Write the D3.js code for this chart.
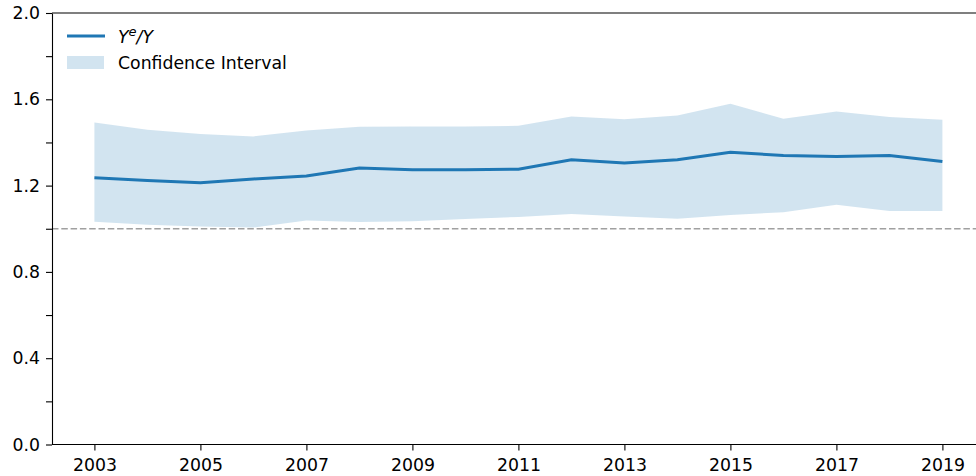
<!DOCTYPE html>
<html lang="en">
<head>
<meta charset="UTF-8">
<title>Ye/Y</title>
<style>
    body { margin: 0; background: #fff; }
    svg { display: block; }
    text { font-family: "DejaVu Sans", sans-serif; font-size: 17.3px; fill: #000; }
    .axis path, .axis line { stroke: #000; stroke-width: 1.1px; }
</style>
</head>
<body>
<svg width="976" height="476"></svg>
<script src="https://d3js.org/d3.v7.min.js"></script>
<script>
    // data
    var years = [2003, 2004, 2005, 2006, 2007, 2008, 2009, 2010, 2011, 2012, 2013, 2014, 2015, 2016, 2017, 2018, 2019];
    var ratio = [1.236, 1.224, 1.213, 1.231, 1.245, 1.282, 1.273, 1.274, 1.276, 1.320, 1.305, 1.320, 1.354, 1.340, 1.335, 1.340, 1.312];
    var upper = [1.493, 1.459, 1.439, 1.428, 1.455, 1.473, 1.474, 1.474, 1.477, 1.520, 1.508, 1.525, 1.579, 1.510, 1.544, 1.518, 1.505];
    var lower = [1.033, 1.018, 1.010, 1.006, 1.038, 1.031, 1.035, 1.045, 1.055, 1.068, 1.057, 1.046, 1.064, 1.077, 1.111, 1.082, 1.082];
    var xTicks = [2003, 2005, 2007, 2009, 2011, 2013, 2015, 2017, 2019];
    var yTicks = [0, 0.2, 0.4, 0.6, 0.8, 1.0, 1.2, 1.4, 1.6, 1.8, 2.0];
    var yLabels = ["0.0", "", "0.4", "", "0.8", "", "1.2", "", "1.6", "", "2.0"];

    var svg = d3.select("svg");
    var plotLeft = 52, plotTop = 13, plotBottom = 444.5;

    var x = d3.scaleLinear().domain([2002.2, 2019.8]).range([plotLeft, plotLeft + 17.6 * 53]);
    var y = d3.scaleLinear().domain([0, 2]).range([plotBottom, plotTop]);

    var rows = years.map(function (yr, i) {
        return { year: yr, v: ratio[i], lo: lower[i], hi: upper[i] };
    });

    // confidence band
    var area = d3.area()
        .x(function (d) { return x(d.year); })
        .y0(function (d) { return y(d.lo); })
        .y1(function (d) { return y(d.hi); });

    svg.append("path")
        .datum(rows)
        .attr("d", area)
        .attr("fill", "#1f77b4")
        .attr("fill-opacity", 0.2);

    // reference line at 1
    svg.append("line")
        .attr("x1", plotLeft).attr("x2", 976)
        .attr("y1", y(1)).attr("y2", y(1))
        .attr("stroke", "#a0a0a0")
        .attr("stroke-width", 1.3)
        .attr("stroke-dasharray", "6.5,2.8");

    var line = d3.line()
        .x(function (d) { return x(d.year); })
        .y(function (d) { return y(d.v); });

    svg.append("path")
        .datum(rows)
        .attr("d", line)
        .attr("fill", "none")
        .attr("stroke", "#1f77b4")
        .attr("stroke-width", 3);

    // axes
    var xAxis = svg.append("g")
        .attr("class", "axis")
        .attr("transform", "translate(0," + plotBottom + ")")
        .call(d3.axisBottom(x).tickValues(xTicks).tickFormat(d3.format("d")).tickSize(6).tickPadding(8).tickSizeOuter(0));
    xAxis.select(".domain").attr("d", "M" + plotLeft + ",0H976");

    svg.append("g")
        .attr("class", "axis")
        .attr("transform", "translate(" + plotLeft + ",0)")
        .call(d3.axisLeft(y).tickValues(yTicks)
            .tickFormat(function (d, i) { return yLabels[i]; })
            .tickSize(6).tickPadding(6).tickSizeOuter(0));
    svg.selectAll(".axis text").style("font-size", "17.3px").style("font-family", "DejaVu Sans, sans-serif");

    // top spine
    svg.append("line")
        .attr("x1", plotLeft).attr("x2", 976)
        .attr("y1", plotTop).attr("y2", plotTop)
        .attr("stroke", "#000").attr("stroke-width", 1.1);

    // legend
    var lg = svg.append("g");
    lg.append("line")
        .attr("x1", 67).attr("x2", 105).attr("y1", 36).attr("y2", 36)
        .attr("stroke", "#1f77b4").attr("stroke-width", 3);
    var t = lg.append("text").attr("x", 118).attr("y", 42.5).style("font-style", "italic");
    t.append("tspan").text("Y");
    t.append("tspan").text("e").attr("dy", -7).style("font-size", "13px");
    t.append("tspan").text("/Y").attr("dy", 7);

    lg.append("rect")
        .attr("x", 67).attr("y", 56).attr("width", 37).attr("height", 13)
        .attr("fill", "#1f77b4").attr("fill-opacity", 0.2);
    lg.append("text").attr("x", 118).attr("y", 68.5).text("Confidence Interval");
</script>
</body>
</html>
